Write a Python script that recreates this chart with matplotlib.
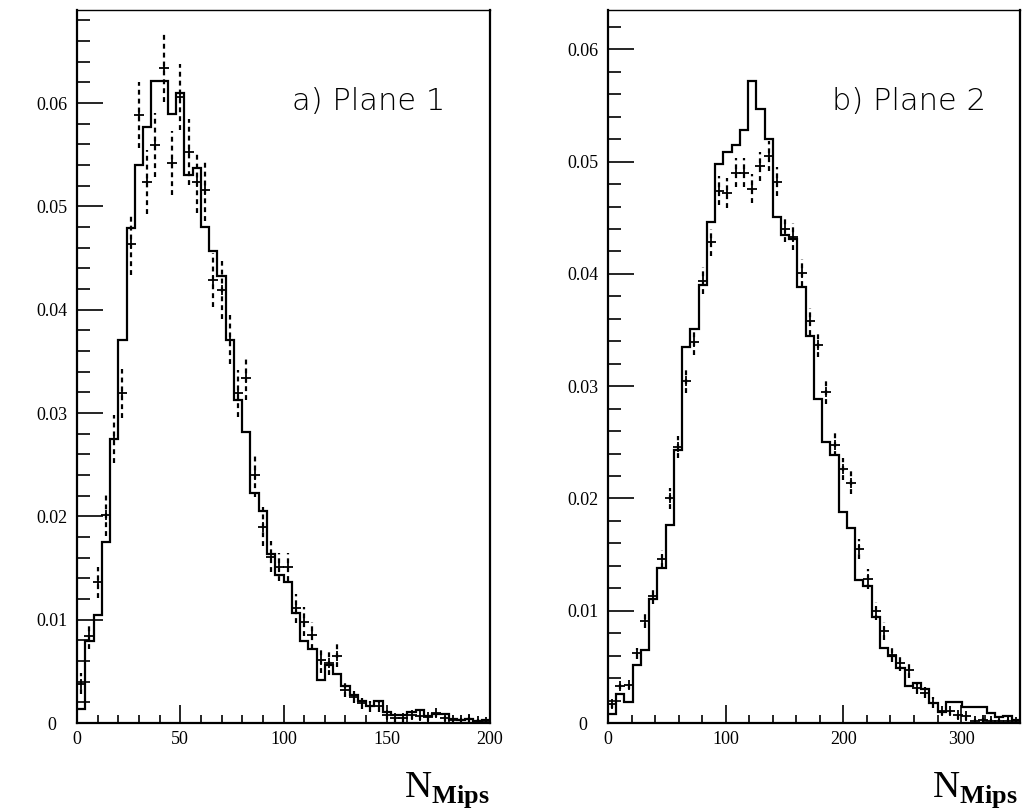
import numpy as np
import matplotlib
matplotlib.use("Agg")
import matplotlib.pyplot as plt
from matplotlib.ticker import MultipleLocator

plt.rcParams['font.family'] = ['Liberation Serif', 'DejaVu Serif']
plt.rcParams['mathtext.fontset'] = 'custom'
plt.rcParams['mathtext.rm'] = 'Liberation Serif'
plt.rcParams['mathtext.bf'] = 'Liberation Serif:bold'

# plane 1: 50 bins of width 4 from 0 to 200
plane1_edges = np.linspace(0, 200, 51)
plane1_sim = [0.0014, 0.0079, 0.0105, 0.0175, 0.0275, 0.0371, 0.0479, 0.0540, 0.0577, 0.0621,
              0.0621, 0.0589, 0.0610, 0.0530, 0.0537, 0.0480, 0.0457, 0.0433, 0.0371, 0.0313,
              0.0282, 0.0223, 0.0205, 0.0164, 0.0143, 0.0136, 0.0106, 0.0079, 0.0072, 0.0042,
              0.0056, 0.0047, 0.0036, 0.0027, 0.0021, 0.0016, 0.0021, 0.0011, 0.0008, 0.0008,
              0.0011, 0.0013, 0.0007, 0.0009, 0.0009, 0.0004, 0.0003, 0.0004, 0.0002, 0.0003]
plane1_data = [0.0038, 0.0084, 0.0136, 0.0201, 0.0275, 0.0319, 0.0464, 0.0588, 0.0524, 0.0559,
               0.0634, 0.0542, 0.0606, 0.0553, 0.0524, 0.0516, 0.0429, 0.0419, 0.0371, 0.0319,
               0.0334, 0.0240, 0.0190, 0.0161, 0.0151, 0.0151, 0.0111, 0.0098, 0.0085, 0.0061,
               0.0058, 0.0065, 0.0032, 0.0025, 0.0019, 0.0016, 0.0016, 0.0008, 0.0005, 0.0005,
               0.0008, 0.0007, 0.0006, 0.0010, 0.0005, 0.0003, 0.0003, 0.0004, 0.0002, 0.0001]
plane1_err = [0.0010, 0.0012, 0.0015, 0.0020, 0.0023, 0.0024, 0.0030, 0.0032, 0.0031, 0.0031,
              0.0033, 0.0031, 0.0032, 0.0032, 0.0030, 0.0030, 0.0026, 0.0028, 0.0024, 0.0023,
              0.0021, 0.0021, 0.0019, 0.0015, 0.0014, 0.0014, 0.0014, 0.0014, 0.0013, 0.0013,
              0.0012, 0.0011, 0.0007, 0.0006, 0.0005, 0.0005, 0.0005, 0.0004, 0.0004, 0.0004,
              0.0004, 0.0004, 0.0004, 0.0004, 0.0003, 0.0003, 0.0003, 0.0003, 0.0002, 0.0002]

# plane 2: 50 bins of width 7 from 0 to 350
plane2_edges = np.linspace(0, 350, 51)
plane2_sim = [0.0008, 0.0026, 0.0019, 0.0052, 0.0065, 0.0110, 0.0138, 0.0176, 0.0243, 0.0335,
              0.0351, 0.0390, 0.0446, 0.0498, 0.0509, 0.0515, 0.0528, 0.0572, 0.0547, 0.0520,
              0.0451, 0.0435, 0.0431, 0.0388, 0.0345, 0.0289, 0.0250, 0.0239, 0.0188, 0.0174,
              0.0127, 0.0122, 0.0094, 0.0067, 0.0060, 0.0049, 0.0033, 0.0036, 0.0030, 0.0018,
              0.0010, 0.0019, 0.0019, 0.0014, 0.0014, 0.0014, 0.0009, 0.0005, 0.0006, 0.0003]
plane2_data = [0.00165, 0.0033, 0.0034, 0.0062, 0.0091, 0.0113, 0.0146, 0.0200, 0.0246, 0.0305,
               0.0339, 0.0394, 0.0428, 0.0474, 0.0472, 0.0490, 0.0490, 0.0476, 0.0496, 0.0505,
               0.0482, 0.0440, 0.0433, 0.0401, 0.0358, 0.0337, 0.0295, 0.0248, 0.0226, 0.0214,
               0.0155, 0.0128, 0.0100, 0.0082, 0.0061, 0.0053, 0.0047, 0.0031, 0.0027, 0.0018,
               0.0011, 0.0011, 0.0007, 0.0006, 0.0002, 0.0003, 0.0002, 0.0002, 0.0002, 0.0001]
plane2_err = [0.0003, 0.0003, 0.0004, 0.0005, 0.0006, 0.0007, 0.0008, 0.0009, 0.0010, 0.0011,
              0.0011, 0.0012, 0.0012, 0.0013, 0.0013, 0.0013, 0.0013, 0.0013, 0.0013, 0.0013,
              0.0013, 0.0012, 0.0012, 0.0012, 0.0012, 0.0011, 0.0011, 0.0010, 0.0010, 0.0010,
              0.0009, 0.0009, 0.0008, 0.0008, 0.0007, 0.0007, 0.0007, 0.0005, 0.0005, 0.0005,
              0.0004, 0.0004, 0.0003, 0.0003, 0.0003, 0.0003, 0.0002, 0.0002, 0.0002, 0.0002]

y_ticks = [0, 0.01, 0.02, 0.03, 0.04, 0.05, 0.06]
y_labels = ["0", "0.01", "0.02", "0.03", "0.04", "0.05", "0.06"]


def draw_panel(ax, edges, sim, data, err, xmax, ymax, xmajor, xminor, title, title_x, lab_x):
    centers = 0.5 * (edges[:-1] + edges[1:])
    ax.stairs(sim, edges, color='black', lw=1.6, baseline=None)
    eb = ax.errorbar(centers, data, yerr=err, fmt='+', color='black', ms=7, mew=1.3,
                     elinewidth=1.6, capsize=0)
    eb[2][0].set_linestyle((0, (2.2, 1.8)))

    ax.set_xlim(0, xmax)
    ax.set_ylim(0, ymax)
    ax.xaxis.set_major_locator(MultipleLocator(xmajor))
    ax.xaxis.set_minor_locator(MultipleLocator(xminor))
    ax.set_yticks(y_ticks)
    ax.set_yticklabels(y_labels)
    ax.yaxis.set_minor_locator(MultipleLocator(0.002))
    ax.tick_params(which='both', direction='in', top=False, right=False, labelsize=13, width=1.2)
    ax.tick_params(axis='x', which='major', length=13, pad=6)
    ax.tick_params(axis='x', which='minor', length=6)
    ax.tick_params(axis='y', which='major', length=19, pad=18)
    ax.tick_params(axis='y', which='minor', length=9)
    for lab in ax.get_yticklabels():
        lab.set_horizontalalignment('center')
    for side in ['left', 'bottom', 'right']:
        ax.spines[side].set_linewidth(1.6)
    ax.spines['top'].set_linewidth(1.0)

    ax.text(title_x, 0.86, title, transform=ax.transAxes, ha='center', va='baseline',
            fontsize=22, family='DejaVu Sans', fontweight='light')
    ax.text(lab_x, -0.104, r'$\mathrm{N}_{\mathbf{Mips}}$', transform=ax.transAxes,
            ha='right', va='baseline', fontsize=27)


fig = plt.figure(figsize=(10.23, 8.09), dpi=100)
ax1 = fig.add_axes([0.0753, 0.1063, 0.4037, 0.8813])
ax2 = fig.add_axes([0.5943, 0.1063, 0.4027, 0.8813])

draw_panel(ax1, plane1_edges, plane1_sim, plane1_data, plane1_err, 200, 0.069, 50, 10,
           "a) Plane 1", 0.707, 1.0)
draw_panel(ax2, plane2_edges, plane2_sim, plane2_data, plane2_err, 350, 0.0635, 100, 20,
           "b) Plane 2", 0.731, 0.995)

fig.savefig("out.png", dpi=100)
